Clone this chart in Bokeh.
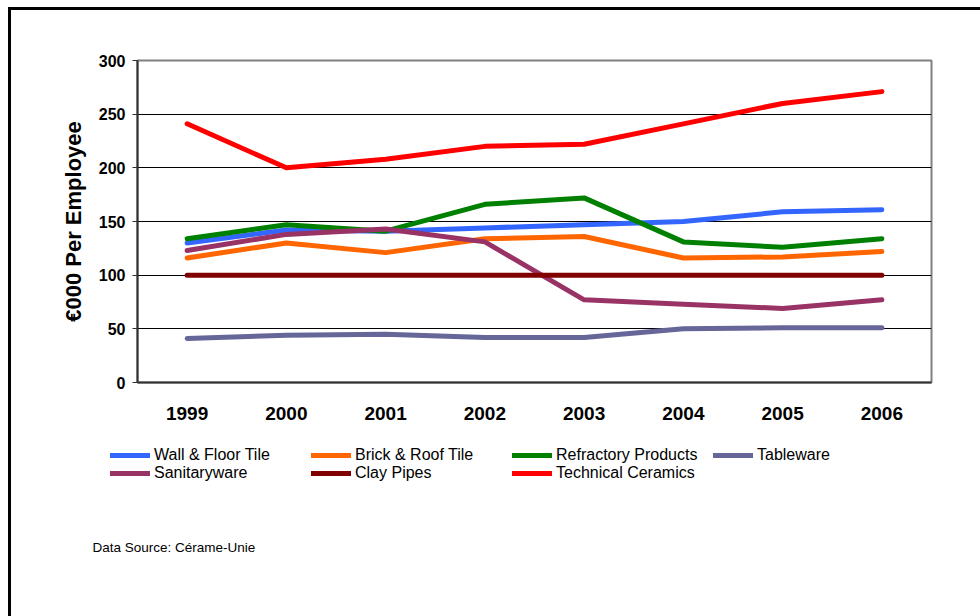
from bokeh.plotting import figure
from bokeh.layouts import column
from bokeh.models import (Range1d, FactorRange, Legend, LegendItem, Label,
                          FixedTicker, ColumnDataSource)
from bokeh.embed import file_html
from bokeh.resources import INLINE

years = ["1999", "2000", "2001", "2002", "2003", "2004", "2005", "2006"]

wall_floor_tile = [130, 142, 141, 144, 147, 150, 159, 161]
brick_roof_tile = [116, 130, 121, 134, 136, 116, 117, 122]
refractory_products = [134, 147, 141, 166, 172, 131, 126, 134]
tableware = [41, 44, 45, 42, 42, 50, 51, 51]
sanitaryware = [123, 138, 143, 131, 77, 73, 69, 77]
clay_pipes = [100, 100, 100, 100, 100, 100, 100, 100]
technical_ceramics = [241, 200, 208, 220, 222, 241, 260, 271]

series = [
    ("Wall & Floor Tile", wall_floor_tile, "#3366FF"),
    ("Brick & Roof Tile", brick_roof_tile, "#FF6600"),
    ("Refractory Products", refractory_products, "#008000"),
    ("Tableware", tableware, "#666699"),
    ("Sanitaryware", sanitaryware, "#993366"),
    ("Clay Pipes", clay_pipes, "#800000"),
    ("Technical Ceramics", technical_ceramics, "#FF0000"),
]

FONT = "Liberation Sans"

W = 972
H1, H2 = 430, 179
p = figure(width=W, height=H1, x_range=FactorRange(*years, range_padding=0),
           y_range=Range1d(0, 300), output_backend="svg", toolbar_location=None,
           min_border_left=126, min_border_top=50, min_border_right=52,
           min_border_bottom=58)

p.outline_line_color = "#808080"
p.outline_line_width = 2
p.background_fill_color = "white"
p.border_fill_color = "white"

p.xgrid.grid_line_color = None
p.ygrid.grid_line_color = "black"
p.ygrid.grid_line_width = 1

p.yaxis.ticker = FixedTicker(ticks=[0, 50, 100, 150, 200, 250, 300])
p.yaxis.axis_line_color = "#333333"
p.yaxis.axis_line_width = 2
p.yaxis.major_tick_line_color = "#333333"
p.yaxis.major_tick_out = 5
p.yaxis.major_tick_in = 0
p.yaxis.minor_tick_line_color = None
p.yaxis.major_label_text_font = FONT
p.yaxis.major_label_text_font_style = "bold"
p.yaxis.major_label_text_font_size = "16px"
p.yaxis.major_label_text_color = "black"
p.yaxis.major_label_standoff = 7
p.yaxis.axis_label = "€000 Per Employee"
p.yaxis.axis_label_text_font = FONT
p.yaxis.axis_label_text_font_style = "bold"
p.yaxis.axis_label_text_font_size = "22px"
p.yaxis.axis_label_text_color = "black"
p.yaxis.axis_label_standoff = 10

p.xaxis.axis_line_color = "#333333"
p.xaxis.axis_line_width = 2
p.xaxis.major_tick_line_color = None
p.xaxis.minor_tick_line_color = None
p.xaxis.major_tick_out = 0
p.xaxis.major_label_text_font = FONT
p.xaxis.major_label_text_font_style = "bold"
p.xaxis.major_label_text_font_size = "19px"
p.xaxis.major_label_text_color = "black"
p.xaxis.major_label_standoff = 24

for name, vals, color in series:
    src = ColumnDataSource(dict(x=years, y=vals))
    p.line("x", "y", source=src, line_color=color, line_width=5,
           line_cap="round", line_join="round")

# lower panel: legend and data source note
q = figure(width=W, height=H2, output_backend="svg", toolbar_location=None,
           x_axis_location=None, y_axis_location=None,
           min_border_left=0, min_border_right=0, min_border_top=0,
           min_border_bottom=0, x_range=Range1d(0, 1), y_range=Range1d(0, 1))
q.outline_line_color = None
q.xgrid.visible = False
q.ygrid.visible = False
q.border_fill_color = "white"
for fig in (p, q):
    if "frame_align" in fig.properties():
        fig.frame_align = False

items = []
for name, vals, color in series:
    r = q.line(x=[float("nan")], y=[float("nan")], line_color=color,
               line_width=5, line_cap="round")
    items.append(LegendItem(label=name, renderers=[r]))

legend = Legend(items=items, location=(99, 137), orientation="horizontal",
                ncols=4, glyph_width=40, glyph_height=16, label_height=16,
                label_width=157, label_standoff=4, spacing=0, padding=0,
                margin=0, border_line_alpha=0, background_fill_alpha=0,
                label_text_font=FONT, label_text_font_size="16px",
                label_text_color="black")
q.add_layout(legend, "center")

note = Label(x=81, y=72, x_units="screen", y_units="screen",
             text="Data Source: Cérame-Unie", text_font=FONT,
             text_font_size="13.5px", text_baseline="middle", text_color="black")
q.add_layout(note)

layout = column(p, q, spacing=0)
layout.margin = (7, 0, 0, 8)
layout.styles = {"border-top": "3px solid black", "border-left": "3px solid black"}

open("out.html", "w").write(file_html(layout, INLINE))
